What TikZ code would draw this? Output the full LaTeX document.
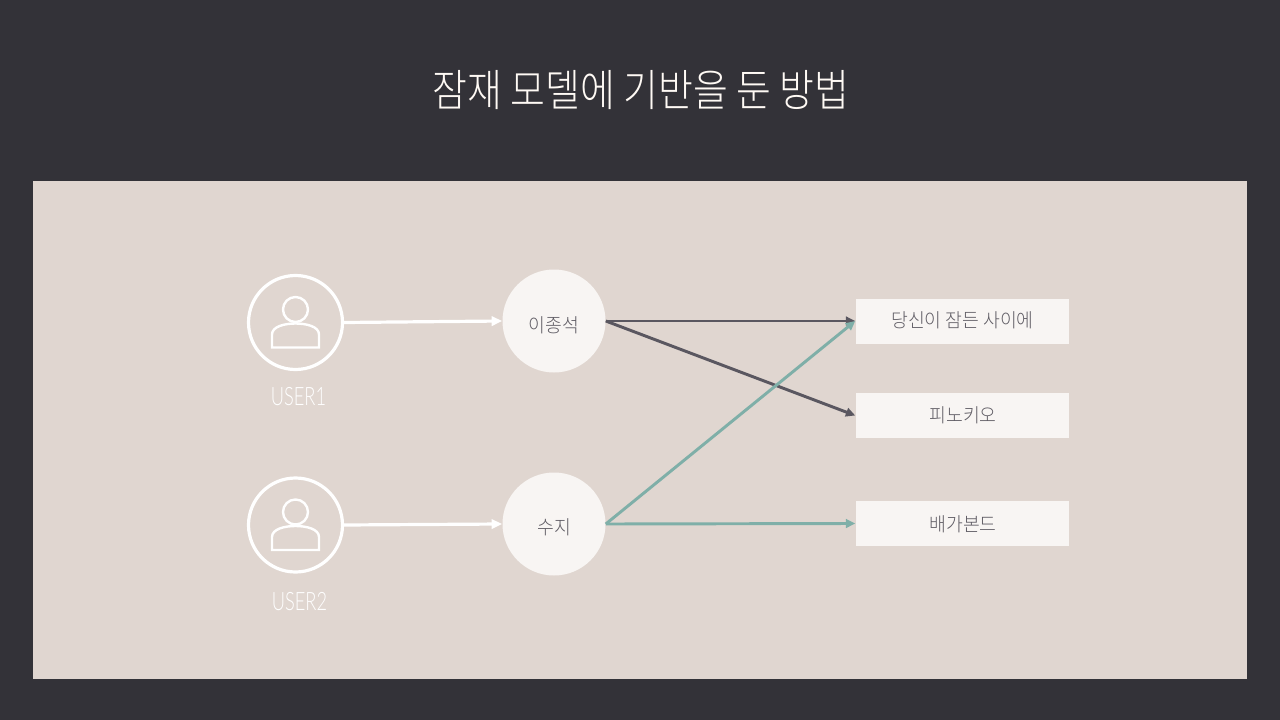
\documentclass[tikz,border=0pt]{standalone}
\usepackage{fontspec}
\setmainfont{Noto Sans CJK KR}[Scale=1]
\newfontfamily\titlef{Noto Sans CJK KR Light}[FakeStretch=0.86]
\newfontfamily\nodef{Noto Sans CJK KR Light}[FakeStretch=0.945]
\newfontfamily\latinf{Lato Light}[FakeStretch=0.72]
\usetikzlibrary{arrows.meta}
\definecolor{bgd}{HTML}{333238}
\definecolor{panel}{HTML}{E0D6D0}
\definecolor{card}{HTML}{F8F5F3}
\definecolor{dk}{HTML}{5A5760}
\definecolor{teal}{HTML}{7FAFA8}
\definecolor{txt}{HTML}{5F5C64}
\definecolor{cream}{HTML}{FFFAF5}
\tikzset{
 px/.style={x=0.75pt,y=-0.75pt},
 circ/.style={circle,fill=card,minimum size=77.25pt,inner sep=0pt,text=txt},
 boxn/.style={rectangle,fill=card,minimum width=159.75pt,minimum height=33.75pt,inner sep=0pt},
 usr/.style={circle,draw=white,line width=2.4pt,fill=none,minimum size=70.5pt,inner sep=0pt},
 lab/.style={text=white,font=\latinf\fontsize{19}{21}\selectfont},
 circt/.style={text=txt,font=\nodef\fontsize{14.5}{16}\selectfont},
 wa/.style={-{Triangle[length=8pt,width=7pt]},draw=white,line width=2.4pt},
 da/.style={-{Triangle[length=7pt,width=6.5pt]},draw=dk,line width=2.2pt},
 ta/.style={-{Triangle[length=7pt,width=6.5pt]},draw=teal,line width=2.2pt},
 icon/.style={draw=white,line width=1.8pt,fill=none}
}
\begin{document}
\begin{tikzpicture}[px]
\useasboundingbox (0,0) rectangle (1280,720);
\fill[bgd] (0,0) rectangle (1280,720);
\fill[panel] (33,181) rectangle (1247,679);
\node[text=cream,font=\titlef\fontsize{33}{38}\selectfont] (title) at (641,90) {잠재 모델에 기반을 둔 방법};
\node[usr] (u1) at (295.5,322.5) {};
\node[usr] (u2) at (295.5,525) {};
\foreach \c in {322.5,525}{
 \draw[icon] (295.5,{\c-13}) circle (12.5);
 \draw[icon] (272,{\c+25}) -- (272,{\c+12}) .. controls (272,{\c+4}) and (284.5,{\c+1}) .. (295.5,{\c+1}) .. controls (306.5,{\c+1}) and (319,{\c+4}) .. (319,{\c+12}) -- (319,{\c+25}) -- cycle;
}
\node[lab] (l1) at (298.5,397) {USER1};
\node[lab] (l2) at (299.5,602) {USER2};
\node[circ] (c1) at (554,321) {};
\node[circ] (c2) at (554,524) {};
\node[circt] (c1t) at (554,325) {이종석};
\node[circt] (c2t) at (554,527.5) {수지};
\node[boxn] (b1) at (962,321) {};
\node[boxn] (b2) at (962,415.5) {};
\node[boxn] (b3) at (962,523.5) {};
\node[circt] (b1t) at (962.5,320.5) {당신이 잠든 사이에};
\node[circt] (b2t) at (963,415.5) {피노키오};
\node[circt] (b3t) at (963,524) {배가본드};
\draw[wa] (u1.east) -- (c1.west);
\draw[wa] (u2.east) -- (c2.west);
\draw[da] (c1.east) -- (b1.west);
\draw[da] (c1.east) -- (b2.west);
\draw[ta] (c2.east) -- (b1.west);
\draw[ta] (c2.east) -- (b3.west);
\end{tikzpicture}
\end{document}
